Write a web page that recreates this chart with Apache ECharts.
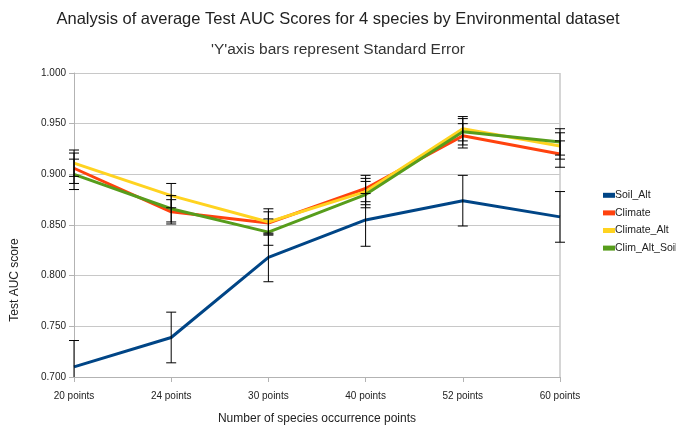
<!DOCTYPE html>
<html>
<head>
<meta charset="utf-8">
<script src="https://cdn.jsdelivr.net/npm/echarts@6/dist/echarts.min.js"></script>
<style>
html, body { margin: 0; padding: 0; background: #fff; }
#chart { width: 676px; height: 425px; }
</style>
</head>
<body>
<div id="chart"></div>
<script>
var categories = ['20 points', '24 points', '30 points', '40 points', '52 points', '60 points'];

var soilAlt = [0.710, 0.739, 0.818, 0.855, 0.874, 0.858];
var climate = [0.906, 0.863, 0.852, 0.886, 0.938, 0.920];
var climateAlt = [0.911, 0.879, 0.853, 0.883, 0.945, 0.928];
var climAltSoil = [0.900, 0.866, 0.843, 0.880, 0.942, 0.932];

// standard error of each point
var soilAltSE = [0.026, 0.025, 0.024, 0.026, 0.025, 0.025];
var climateSE = [0.015, 0.012, 0.011, 0.013, 0.012, 0.013];
var climateAltSE = [0.013, 0.012, 0.013, 0.013, 0.012, 0.013];
var climAltSoilSE = [0.015, 0.013, 0.013, 0.013, 0.013, 0.013];

var names = ['Soil_Alt', 'Climate', 'Climate_Alt', 'Clim_Alt_Soil'];
var colors = ['#004586', '#ff420e', '#ffd320', '#579d1c'];
var values = [soilAlt, climate, climateAlt, climAltSoil];
var errors = [soilAltSE, climateSE, climateAltSE, climAltSoilSE];

var yMin = 0.7, yMax = 1.0;

var chart = echarts.init(document.getElementById('chart'));

function errorBars(vals, se) {
    var d = [];
    for (var i = 0; i < vals.length; i++) {
        d.push([i, vals[i] - se[i], vals[i] + se[i]]);
    }
    return d;
}

// vertical bar with caps, cut off at the axis range (no cap where it is cut)
function renderBar(params, api) {
    var x = api.value(0);
    var low = api.value(1), high = api.value(2);
    var lo = api.coord([x, Math.max(low, yMin)]);
    var hi = api.coord([x, Math.min(high, yMax)]);
    var cap = 5;
    var st = { stroke: '#000', lineWidth: 1 };
    var kids = [
        { type: 'line', shape: { x1: hi[0], y1: hi[1], x2: lo[0], y2: lo[1] }, style: st }
    ];
    if (high <= yMax) {
        kids.push({ type: 'line', shape: { x1: hi[0] - cap, y1: hi[1], x2: hi[0] + cap, y2: hi[1] }, style: st });
    }
    if (low >= yMin) {
        kids.push({ type: 'line', shape: { x1: lo[0] - cap, y1: lo[1], x2: lo[0] + cap, y2: lo[1] }, style: st });
    }
    return { type: 'group', children: kids };
}

var series = [];
for (var k = 0; k < names.length; k++) {
    series.push({
        name: names[k],
        type: 'line',
        data: values[k],
        symbol: 'none',
        color: colors[k],
        lineStyle: { width: 3, color: colors[k] },
        z: 2
    });
}
for (var k = 0; k < names.length; k++) {
    series.push({
        type: 'custom',
        renderItem: renderBar,
        data: errorBars(values[k], errors[k]),
        clip: false,
        z: 5,
        silent: true
    });
}

var option = {
    animation: false,
    backgroundColor: '#fff',
    textStyle: { fontFamily: 'Liberation Sans' },
    title: [
        {
            text: 'Analysis of average Test AUC Scores for 4 species by Environmental dataset',
            left: 'center',
            top: 6,
            textStyle: { fontSize: 16.5, fontWeight: 'normal', color: '#222', fontFamily: 'Liberation Sans' }
        },
        {
            text: "'Y'axis bars represent Standard Error",
            left: 'center',
            top: 37,
            textStyle: { fontSize: 15.5, fontWeight: 'normal', color: '#333', fontFamily: 'Liberation Sans' }
        }
    ],
    legend: {
        orient: 'vertical',
        left: 598,
        top: 184,
        itemWidth: 12,
        itemHeight: 5,
        itemGap: 5,
        icon: 'rect',
        data: names,
        textStyle: { fontSize: 10.5, color: '#222', lineHeight: 12.6, padding: [0, 0, 0, -5] }
    },
    grid: { left: 74, right: 116, top: 73, bottom: 48, outerBoundsMode: 'none' },
    xAxis: {
        type: 'category',
        data: categories,
        boundaryGap: false,
        axisLine: { lineStyle: { color: '#b3b3b3' } },
        axisTick: { show: true, length: 5, lineStyle: { color: '#b3b3b3' } },
        axisLabel: { color: '#222', fontSize: 10, margin: 14 },
        splitLine: { show: false },
        name: 'Number of species occurrence points',
        nameLocation: 'middle',
        nameGap: 36,
        nameTextStyle: { fontSize: 12, color: '#222' }
    },
    yAxis: {
        type: 'value',
        min: yMin,
        max: yMax,
        interval: 0.05,
        axisLine: { show: true, lineStyle: { color: '#b3b3b3' } },
        axisTick: { show: true, length: 5, lineStyle: { color: '#b3b3b3' } },
        axisLabel: {
            color: '#222',
            fontSize: 10,
            margin: 8,
            formatter: function (v) { return v.toFixed(3); }
        },
        splitLine: { show: true, lineStyle: { color: '#c8c8c8' } }
    },
    graphic: [
        {
            type: 'rect',
            shape: { x: 560, y: 73, width: 0, height: 304 },
            style: { stroke: '#c8c8c8', fill: null, lineWidth: 1 },
            silent: true
        },
        {
            type: 'text',
            x: 15,
            y: 280,
            rotation: Math.PI / 2,
            style: {
                text: 'Test AUC score',
                fontSize: 12,
                fill: '#222',
                fontFamily: 'Liberation Sans',
                align: 'center',
                verticalAlign: 'middle'
            }
        }
    ],
    series: series
};

chart.setOption(option);
</script>
</body>
</html>
